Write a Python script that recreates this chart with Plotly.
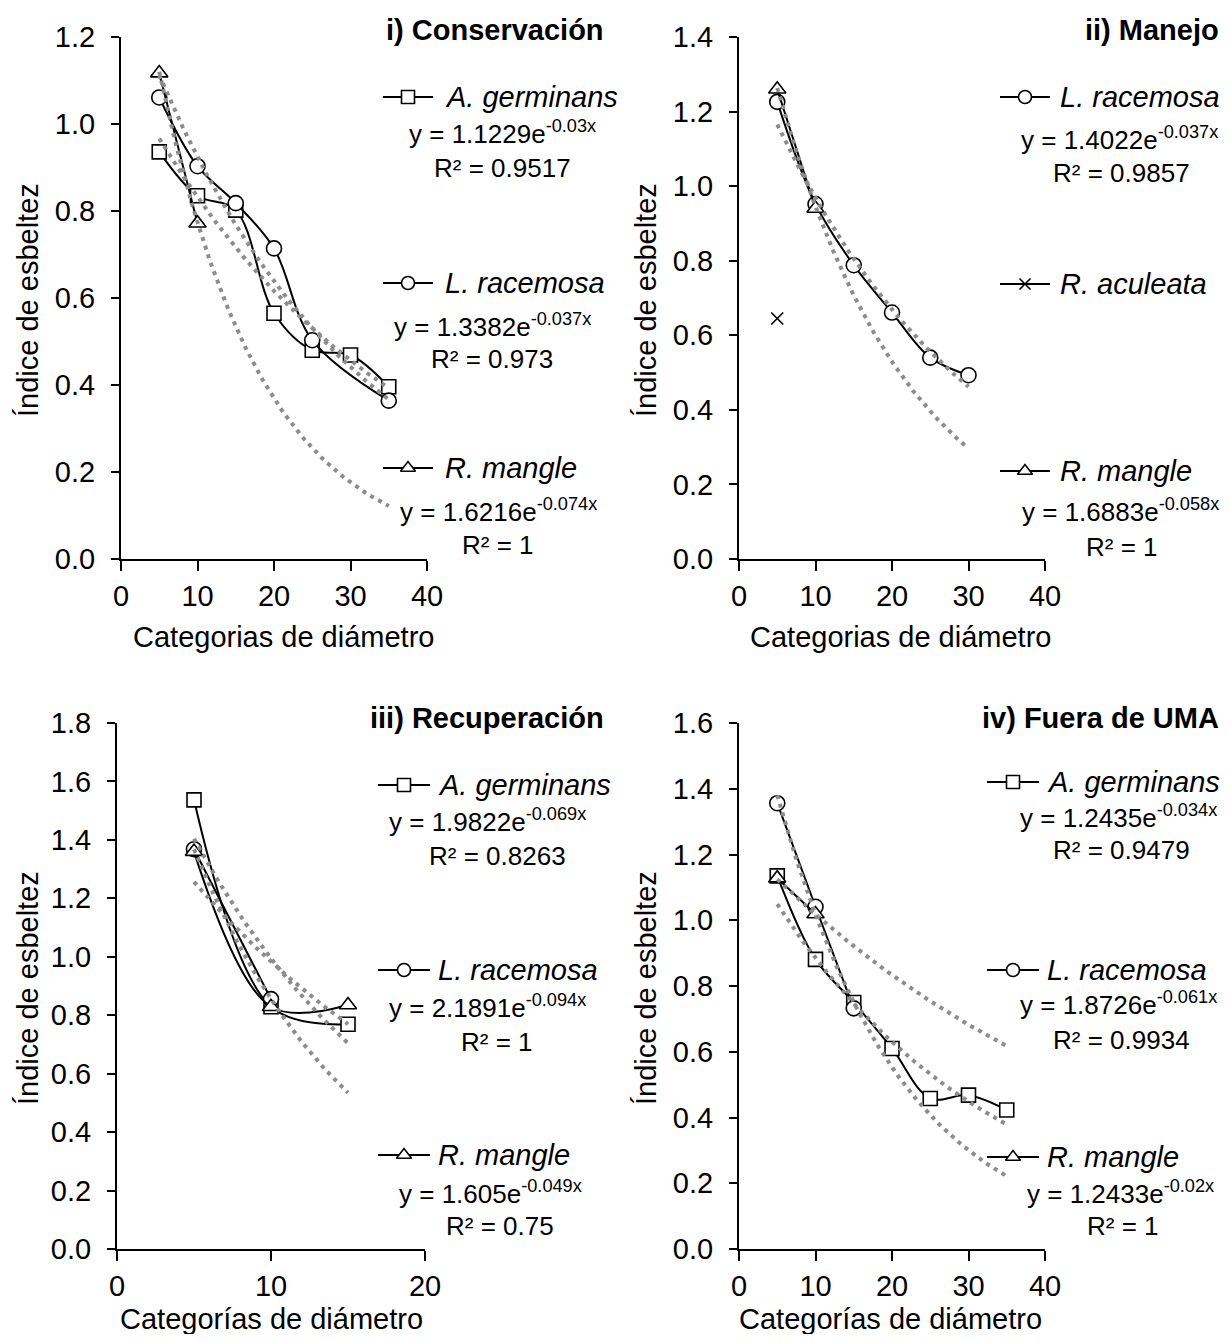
import numpy as np
import plotly.graph_objects as go

# ---------------- data ----------------
# Panel i) Conservación
i_ag_x = [5, 10, 15, 20, 25, 30, 35]
i_ag_y = [0.936, 0.835, 0.802, 0.565, 0.480, 0.469, 0.396]
i_lr_x = [5, 10, 15, 20, 25, 35]
i_lr_y = [1.061, 0.903, 0.818, 0.714, 0.503, 0.364]
i_rm_x = [5, 10]
i_rm_y = [1.117, 0.772]
i_coef_a = [1.1229, 1.3382, 1.6216]
i_coef_b = [-0.03, -0.037, -0.074]
i_r2 = ["0.9517", "0.973", "1"]

# Panel ii) Manejo
ii_lr_x = [5, 10, 15, 20, 25, 30]
ii_lr_y = [1.226, 0.952, 0.788, 0.661, 0.540, 0.493]
ii_ra_x = [5]
ii_ra_y = [0.645]
ii_rm_x = [5, 10]
ii_rm_y = [1.260, 0.940]
ii_coef_a = [1.4022, 1.6883]
ii_coef_b = [-0.037, -0.058]
ii_r2 = ["0.9857", "1"]

# Panel iii) Recuperación
iii_ag_x = [5, 10, 15]
iii_ag_y = [1.537, 0.829, 0.769]
iii_lr_x = [5, 10]
iii_lr_y = [1.368, 0.855]
iii_rm_x = [5, 10, 15]
iii_rm_y = [1.360, 0.829, 0.835]
iii_coef_a = [1.9822, 2.1891, 1.605]
iii_coef_b = [-0.069, -0.094, -0.049]
iii_r2 = ["0.8263", "1", "0.75"]

# Panel iv) Fuera de UMA
iv_ag_x = [5, 10, 15, 20, 25, 30, 35]
iv_ag_y = [1.135, 0.881, 0.750, 0.610, 0.458, 0.468, 0.423]
iv_lr_x = [5, 10, 15]
iv_lr_y = [1.356, 1.041, 0.732]
iv_rm_x = [5, 10]
iv_rm_y = [1.128, 1.019]
iv_coef_a = [1.2435, 1.8726, 1.2433]
iv_coef_b = [-0.034, -0.061, -0.02]
iv_r2 = ["0.9479", "0.9934", "1"]

titles = ["i) Conservación", "ii) Manejo", "iii) Recuperación", "iv) Fuera de UMA"]
ytitle = "Índice de esbeltez"
xtitles = ["Categorias de diámetro", "Categorias de diámetro",
           "Categorías de diámetro", "Categorías de diámetro"]

# ---------------- styling ----------------
PAGE_W, PAGE_H = 1230, 1342
OFF = 8                      # default page body margin
W, H = PAGE_W - 2 * OFF, PAGE_H - 2 * OFF
YBOT = OFF + H               # page y of the figure's bottom edge
FONT = "Liberation Sans, Arial, sans-serif"
BLACK = "#000000"
TREND = "#8c8c8c"
FS = 29      # main text size
FS_EQ = 26   # equation text size

SIZE = {"ag": 14, "lr": 15, "rm": 15, "ra": 12}
NAMES = {"ag": "A. germinans", "lr": "L. racemosa", "rm": "R. mangle", "ra": "R. aculeata"}

fig = go.Figure()

# panel pixel boxes in page pixels: (x0, x1, ytop, ybottom, xmax, ymax)
boxes = [
    (121, 427, 37, 559, 40, 1.2),
    (739, 1045, 37, 559, 40, 1.4),
    (117, 425, 723, 1249, 20, 1.8),
    (739, 1045, 723, 1249, 40, 1.6),
]

def marker_for(key, size=None):
    s = size if size is not None else SIZE[key]
    if key == "ra":
        return dict(symbol="x-thin", size=s, color=BLACK, line=dict(color=BLACK, width=1.6))
    sym = {"ag": "square", "lr": "circle", "rm": "triangle-up"}[key]
    return dict(symbol=sym, size=s, color="white", line=dict(color=BLACK, width=1.6))

panels = [
    [("ag", i_ag_x, i_ag_y), ("lr", i_lr_x, i_lr_y), ("rm", i_rm_x, i_rm_y)],
    [("lr", ii_lr_x, ii_lr_y), ("ra", ii_ra_x, ii_ra_y), ("rm", ii_rm_x, ii_rm_y)],
    [("ag", iii_ag_x, iii_ag_y), ("lr", iii_lr_x, iii_lr_y), ("rm", iii_rm_x, iii_rm_y)],
    [("ag", iv_ag_x, iv_ag_y), ("lr", iv_lr_x, iv_lr_y), ("rm", iv_rm_x, iv_rm_y)],
]
coefs = [
    (i_coef_a, i_coef_b),
    (ii_coef_a, ii_coef_b),
    (iii_coef_a, iii_coef_b),
    (iv_coef_a, iv_coef_b),
]

for p, series in enumerate(panels):
    xa = "x" if p == 0 else f"x{p+1}"
    ya = "y" if p == 0 else f"y{p+1}"
    allx = [v for s in series for v in s[1]]
    xmin, xmax = min(allx), max(allx)
    for key, xs, ys in series:
        mode = "markers" if len(xs) == 1 else "lines+markers"
        fig.add_trace(go.Scatter(
            x=xs, y=ys, mode=mode, xaxis=xa, yaxis=ya, showlegend=False,
            line=dict(color=BLACK, width=2, shape="spline", smoothing=1.0),
            marker=marker_for(key)))
    # exponential trendlines from the printed equations
    xx = np.linspace(xmin, xmax, 80)
    for a, b in zip(*coefs[p]):
        fig.add_trace(go.Scatter(
            x=xx, y=a * np.exp(b * xx), mode="lines", xaxis=xa, yaxis=ya,
            showlegend=False, hoverinfo="skip",
            line=dict(color=TREND, width=4, dash="4px,5px")))

# ---------------- axes ----------------
axis_common = dict(showline=True, linecolor=BLACK, linewidth=2, ticks="outside",
                   tickcolor=BLACK, tickwidth=2, showgrid=False, zeroline=False,
                   automargin=False,
                   tickfont=dict(family=FONT, size=FS, color=BLACK))
lay = {}
for p, (x0, x1, yt, yb, xm, ym) in enumerate(boxes):
    sx = "xaxis" if p == 0 else f"xaxis{p+1}"
    sy = "yaxis" if p == 0 else f"yaxis{p+1}"
    yanchor = "y" if p == 0 else f"y{p+1}"
    xanchor = "x" if p == 0 else f"x{p+1}"
    lay[sx] = dict(axis_common, domain=[(x0 - OFF) / W, (x1 - OFF) / W], range=[0, xm],
                   dtick=10, tick0=0, ticklen=10, anchor=yanchor, ticklabelstandoff=0)
    lay[sy] = dict(axis_common, domain=[(YBOT - yb) / H, (YBOT - yt) / H],
                   range=[0, ym], dtick=0.2, tick0=0, tickformat=".1f", ticklen=8,
                   anchor=xanchor, ticklabelstandoff=10)

# overlay axis in page-pixel coordinates for legend glyphs / text placement
lay["xaxis5"] = dict(domain=[0, 1], range=[OFF, OFF + W], visible=False, anchor="y5",
                     fixedrange=True, automargin=False)
lay["yaxis5"] = dict(domain=[0, 1], range=[YBOT, OFF], visible=False, anchor="x5",
                     fixedrange=True, automargin=False)

annotations = []

def txt(x, y, text, size=FS, xanchor="center", bold=False, italic=False, angle=0):
    t = text
    if bold:
        t = f"<b>{t}</b>"
    if italic:
        t = f"<i>{t}</i>"
    annotations.append(dict(x=x, y=y, xref="x5", yref="y5", text=t, showarrow=False,
                            xanchor=xanchor, yanchor="middle", textangle=angle,
                            font=dict(family=FONT, size=size, color=BLACK)))

def glyph(key, xl, xr, y):
    fig.add_trace(go.Scatter(x=[xl, xr], y=[y, y], mode="lines", xaxis="x5", yaxis="y5",
                             showlegend=False, hoverinfo="skip",
                             line=dict(color=BLACK, width=2)))
    fig.add_trace(go.Scatter(x=[(xl + xr) / 2], y=[y], mode="markers", xaxis="x5",
                             yaxis="y5", showlegend=False, hoverinfo="skip",
                             marker=marker_for(key, 13 if key != "ra" else 11)))

def eq(a, b):
    return f"y = {a}e<sup>{b}x</sup>"

# titles
txt(606, 30, titles[0], xanchor="right", bold=True)
txt(1221, 30, titles[1], xanchor="right", bold=True)
txt(606, 718, titles[2], xanchor="right", bold=True)
txt(1221, 718, titles[3], xanchor="right", bold=True)

# axis titles
for (xp, yp) in [(28, 300), (646, 300), (28, 988), (646, 988)]:
    txt(xp, yp, ytitle, angle=-90)
txt(283, 637, xtitles[0])
txt(900, 637, xtitles[1])
txt(271, 1319, xtitles[2])
txt(890, 1319, xtitles[3])

# legends panel i
leg_i = [("ag", 97, 132, 168, 502), ("lr", 283, 325, 359, 492), ("rm", 468, 510, 545, 498)]
for k, (key, yl, ye, yr, cx) in enumerate(leg_i):
    glyph(key, 383, 433, yl)
    txt(443, yl, NAMES[key], xanchor="left", italic=True)
    txt(cx, ye, eq(i_coef_a[k], i_coef_b[k]), size=FS_EQ)
    txt(cx, yr, f"R² = {i_r2[k]}", size=FS_EQ)

# legends panel ii
glyph("lr", 1000, 1050, 97)
txt(1058, 97, NAMES["lr"], xanchor="left", italic=True)
txt(1119, 138, eq(ii_coef_a[0], ii_coef_b[0]), size=FS_EQ)
txt(1121, 173, f"R² = {ii_r2[0]}", size=FS_EQ)
glyph("ra", 1000, 1050, 284)
txt(1058, 284, NAMES["ra"], xanchor="left", italic=True)
glyph("rm", 1000, 1050, 471)
txt(1058, 471, NAMES["rm"], xanchor="left", italic=True)
txt(1120, 510, eq(ii_coef_a[1], ii_coef_b[1]), size=FS_EQ)
txt(1122, 547, f"R² = {ii_r2[1]}", size=FS_EQ)

# legends panel iii
leg_iii = [("ag", 785, 820, 856, 487), ("lr", 970, 1006, 1042, 487), ("rm", 1155, 1192, 1226, 490)]
for k, (key, yl, ye, yr, cx) in enumerate(leg_iii):
    glyph(key, 378, 430, yl)
    txt(436, yl, NAMES[key], xanchor="left", italic=True)
    txt(cx, ye, eq(iii_coef_a[k], iii_coef_b[k]), size=FS_EQ)
    txt(cx + 10, yr, f"R² = {iii_r2[k]}", size=FS_EQ)

# legends panel iv
leg_iv = [("ag", 782, 816, 850, 1118), ("lr", 970, 1003, 1040, 1118), ("rm", 1157, 1192, 1226, 1120)]
for k, (key, yl, ye, yr, cx) in enumerate(leg_iv):
    glyph(key, 987, 1039, yl)
    txt(1045, yl, NAMES[key], xanchor="left", italic=True)
    txt(cx, ye, eq(iv_coef_a[k], iv_coef_b[k]), size=FS_EQ)
    txt(cx + 3, yr, f"R² = {iv_r2[k]}", size=FS_EQ)

fig.update_layout(
    width=W, height=H, margin=dict(l=0, r=0, t=0, b=0, autoexpand=False),
    paper_bgcolor="white", plot_bgcolor="rgba(0,0,0,0)",
    font=dict(family=FONT, size=FS, color=BLACK),
    showlegend=False, annotations=annotations, **lay)

fig.write_html("out.html")
